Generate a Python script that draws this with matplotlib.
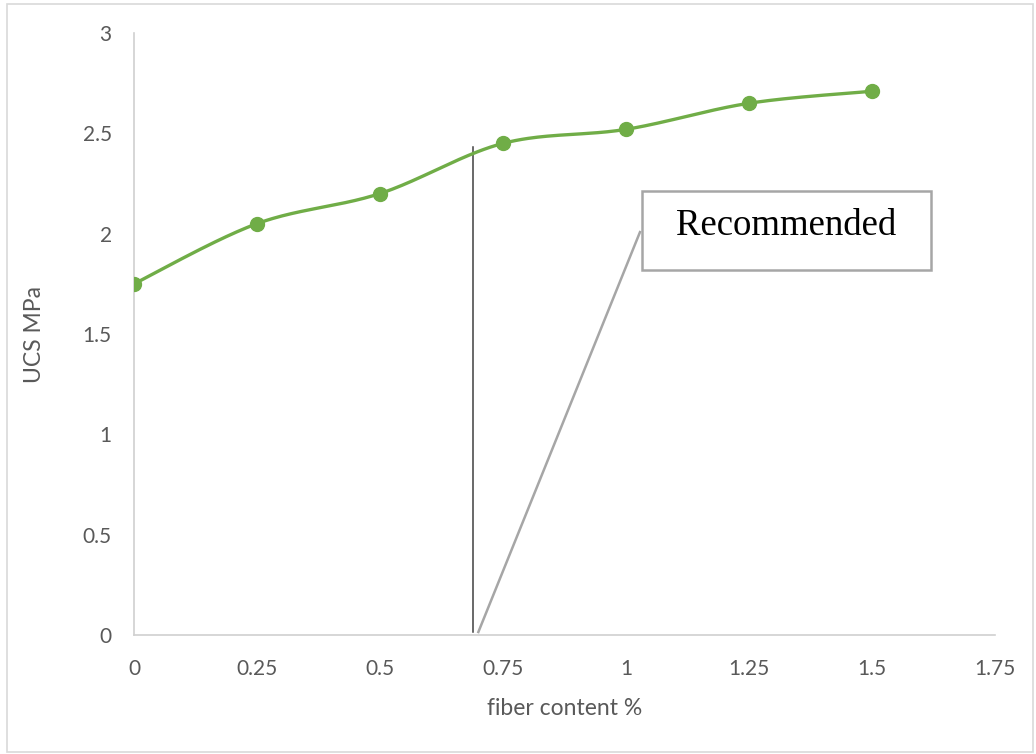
import matplotlib.pyplot as plt
import matplotlib.patches as patches
import numpy as np

# data
fiber = [0, 0.25, 0.5, 0.75, 1.0, 1.25, 1.5]
ucs = [1.75, 2.05, 2.20, 2.45, 2.52, 2.65, 2.71]
x_ticks = [0, 0.25, 0.5, 0.75, 1, 1.25, 1.5, 1.75]
x_tick_labels = ['0', '0.25', '0.5', '0.75', '1', '1.25', '1.5', '1.75']
y_ticks = [0, 0.5, 1, 1.5, 2, 2.5, 3]
y_tick_labels = ['0', '0.5', '1', '1.5', '2', '2.5', '3']
recommended_x = 0.69
recommended_top = 2.43


def smooth(xs, ys, n=40):
    # catmull-rom style smoothing like Excel's smoothed line
    xs = np.asarray(xs, float)
    ys = np.asarray(ys, float)
    px = np.concatenate([[xs[0]], xs, [xs[-1]]])
    py = np.concatenate([[ys[0]], ys, [ys[-1]]])
    out_x, out_y = [], []
    t = np.linspace(0, 1, n)
    for i in range(1, len(px) - 2):
        p0x, p1x, p2x, p3x = px[i - 1], px[i], px[i + 1], px[i + 2]
        p0y, p1y, p2y, p3y = py[i - 1], py[i], py[i + 1], py[i + 2]
        c1x, c1y = p1x + (p2x - p0x) / 6, p1y + (p2y - p0y) / 6
        c2x, c2y = p2x - (p3x - p1x) / 6, p2y - (p3y - p1y) / 6
        bx = (1 - t) ** 3 * p1x + 3 * (1 - t) ** 2 * t * c1x + 3 * (1 - t) * t ** 2 * c2x + t ** 3 * p2x
        by = (1 - t) ** 3 * p1y + 3 * (1 - t) ** 2 * t * c1y + 3 * (1 - t) * t ** 2 * c2y + t ** 3 * p2y
        out_x.extend(bx)
        out_y.extend(by)
    return out_x, out_y


plt.rcParams['font.family'] = ['Lato', 'DejaVu Sans']

fig = plt.figure(figsize=(10.36, 7.54), dpi=100)
ax = fig.add_axes([0.1293, 0.1578, 0.8311, 0.7984])

green = '#70ad47'
sx, sy = smooth(fiber, ucs)
ax.plot(sx, sy, color=green, lw=2.4, zorder=3, solid_capstyle='round')
ax.plot(fiber, ucs, 'o', color=green, markersize=10, zorder=4)

ax.set_xlim(0, 1.75)
ax.set_ylim(0, 3)
ax.set_xticks(x_ticks)
ax.set_xticklabels(x_tick_labels)
ax.set_yticks(y_ticks)
ax.set_yticklabels(y_tick_labels)
ax.tick_params(length=0, labelsize=15, colors='#595959')
ax.tick_params(axis='x', pad=17)
ax.tick_params(axis='y', pad=16)

for s in ['top', 'right']:
    ax.spines[s].set_visible(False)
for s in ['left', 'bottom']:
    ax.spines[s].set_color('#d0d0d0')
    ax.spines[s].set_linewidth(1.2)

ax.set_xlabel('fiber content %', fontsize=16.5, color='#595959')
ax.set_ylabel('UCS MPa', fontsize=16.5, color='#595959')
ax.xaxis.set_label_coords(0.5, -0.104)
ax.yaxis.set_label_coords(-0.103, 0.5)

# recommended marker line and callout
ax.plot([recommended_x, recommended_x], [0.015, recommended_top], color='#404040', lw=1.1, zorder=2)
ax.plot([0.70, 1.0285], [0.015, 2.008], color='#a6a6a6', lw=1.8, zorder=2)
box = patches.Rectangle((1.0325, 1.819), 0.5875, 0.3936, transform=ax.transData,
                        facecolor='white', edgecolor='#a6a6a6', lw=1.8, zorder=5)
ax.add_patch(box)
ax.text(1.0325 + 0.5875 / 2, 2.04, 'Recommended', ha='center', va='center',
        fontsize=26.5, family=['Liberation Serif', 'DejaVu Serif'], color='black', zorder=6)

# outer chart border
fig.patches.append(patches.Rectangle((7 / 1036, 2 / 754), 1026 / 1036, 748 / 754,
                                     transform=fig.transFigure, fill=False,
                                     edgecolor='#d9d9d9', lw=1.2))

fig.savefig('out.png', dpi=100)
